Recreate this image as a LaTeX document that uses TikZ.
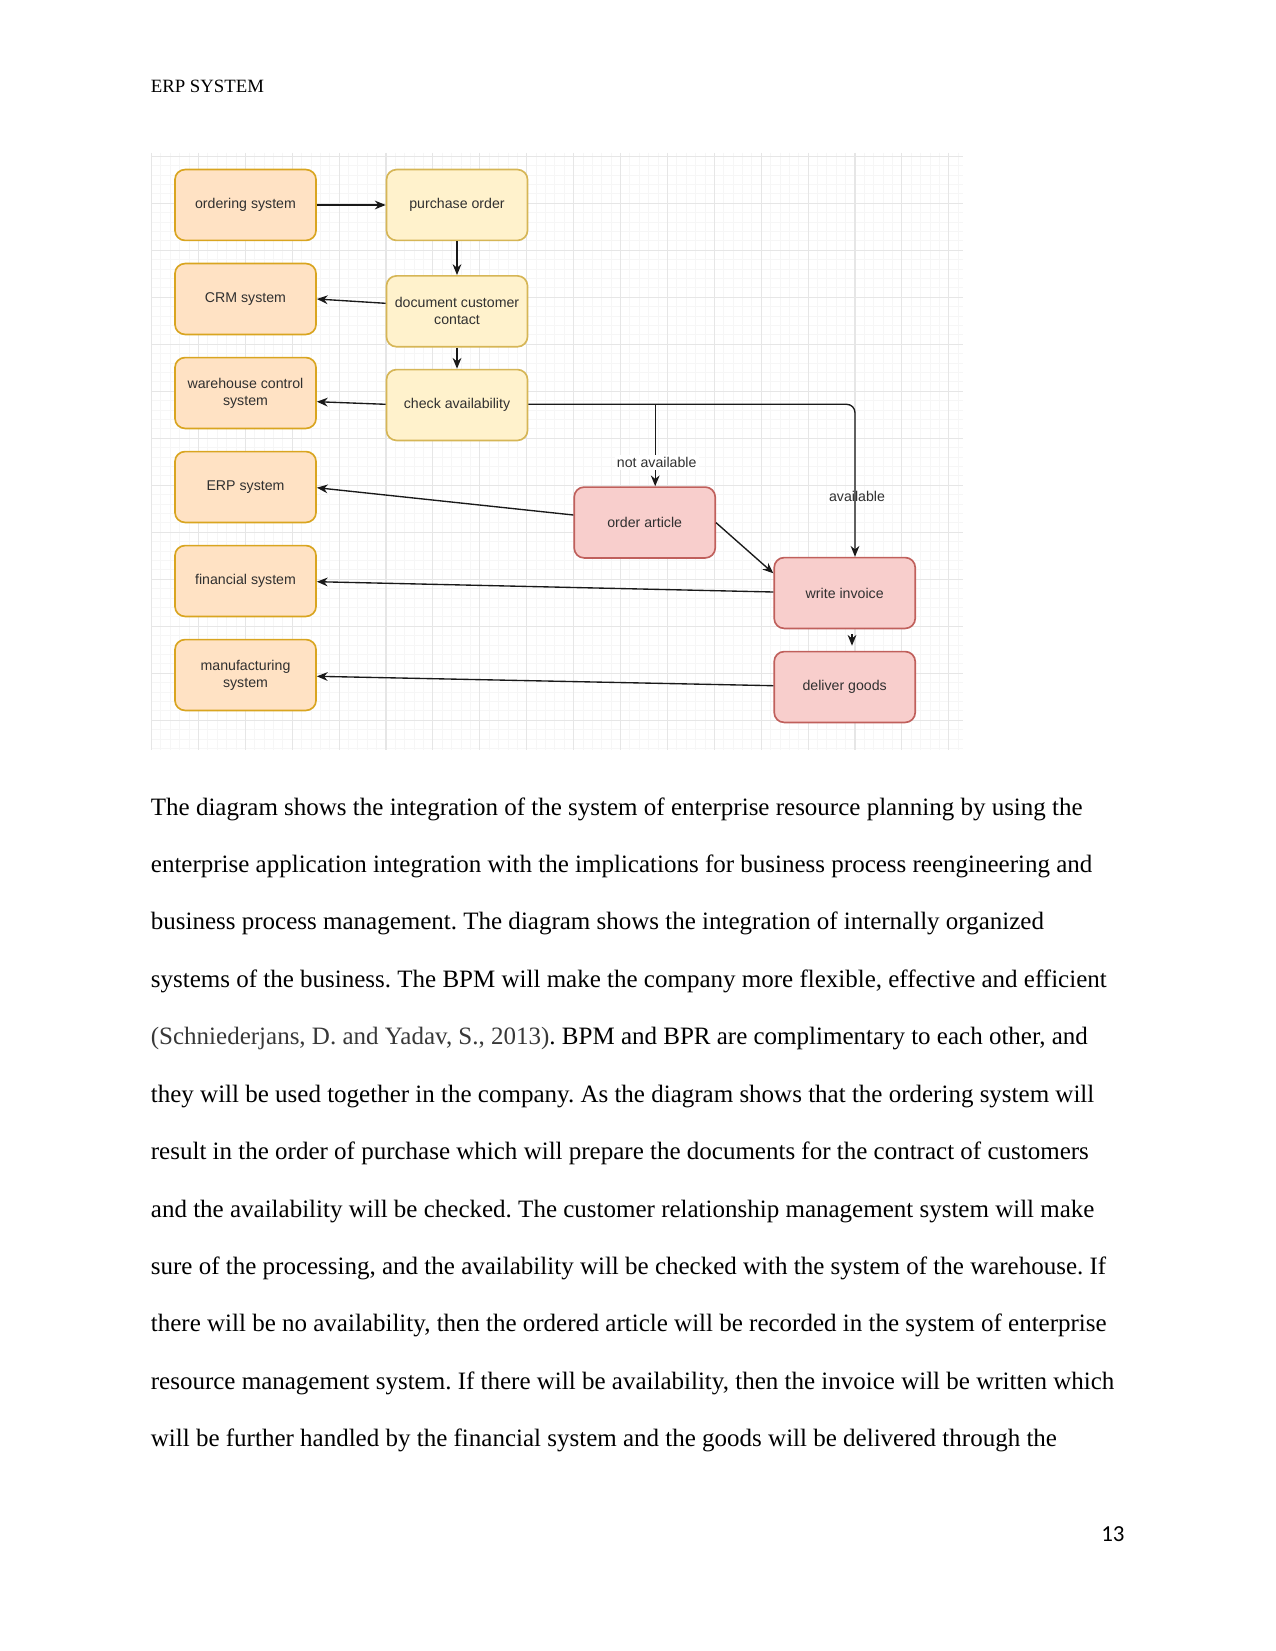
\documentclass[tikz,border=0pt]{standalone}
\usepackage{fontspec}
\setmainfont{Liberation Serif}
\newfontfamily\diafont{Liberation Sans}
\newfontfamily\pnfont{Carlito}
\usetikzlibrary{arrows.meta,calc}
\definecolor{orfill}{HTML}{FFE2C4}
\definecolor{ordraw}{HTML}{D9A520}
\definecolor{yefill}{HTML}{FFF2CC}
\definecolor{yedraw}{HTML}{D6B656}
\definecolor{refill}{HTML}{F8CECC}
\definecolor{redraw}{HTML}{C0605C}
\definecolor{gridmaj}{HTML}{E6E6E6}
\definecolor{gridmin}{HTML}{F6F6F6}
\definecolor{txt}{HTML}{303030}
\frenchspacing
\begin{document}
\begin{tikzpicture}[x=0.48pt,y=-0.48pt,
  box/.style={rounded corners=4.8pt, minimum width=67.7pt, minimum height=34pt,
    line width=0.8pt, font=\diafont\fontsize{6.8}{8.2}\selectfont, text=txt,
    align=center, inner sep=1pt},
  orbox/.style={box, fill=orfill, draw=ordraw},
  yebox/.style={box, fill=yefill, draw=yedraw},
  rebox/.style={box, fill=refill, draw=redraw},
  conn/.style={line width=0.65pt, draw=black!90, -{Stealth[length=5.2pt,width=4.2pt]}},
  lbl/.style={font=\diafont\fontsize{6.8}{8.2}\selectfont, text=txt, inner sep=1pt},
  bodytext/.style={anchor=base west, inner sep=0pt, font=\fontsize{12}{14}\selectfont}
]
\useasboundingbox (0,0) rectangle (1275,1651);
\fill[white] (0,0) rectangle (1275,1651);

% header
\node[anchor=base west, inner sep=0pt, font=\fontsize{9}{11}\selectfont] (hdr) at (150.5,92.3) {ERP SYSTEM};

% grid background
\begin{scope}
\clip (151,153) rectangle (963,750);
\foreach \i in {0,...,87} {
  \pgfmathtruncatemacro{\r}{mod(\i,5)}
  \ifnum\r=0\relax\else
    \draw[gridmin, line width=0.4pt] ({151.5+9.38*\i},153) -- ({151.5+9.38*\i},750);
  \fi
}
\foreach \j in {0,...,63} {
  \pgfmathtruncatemacro{\r}{mod(\j,5)}
  \ifnum\r=0\relax\else
    \draw[gridmin, line width=0.4pt] (151,{156.3+9.4*\j}) -- (963,{156.3+9.4*\j});
  \fi
}
\foreach \i in {0,...,17} {
  \draw[gridmaj, line width=0.5pt] ({151.5+46.9*\i},153) -- ({151.5+46.9*\i},750);
}
\foreach \j in {0,...,12} {
  \draw[gridmaj, line width=0.5pt] (151,{156.3+47*\j}) -- (963,{156.3+47*\j});
}
\end{scope}

% left column
\node[orbox] (ord) at (245.5,205) {ordering system};
\node[orbox] (crm) at (245.5,299) {CRM system};
\node[orbox] (wh)  at (245.5,393) {warehouse control\\system};
\node[orbox] (erp) at (245.5,487) {ERP system};
\node[orbox] (fin) at (245.5,581) {financial system};
\node[orbox] (man) at (245.5,675) {manufacturing\\system};

% middle column
\node[yebox] (pur) at (457,205) {purchase order};
\node[yebox] (doc) at (457,311.3) {document customer\\contact};
\node[yebox] (chk) at (457,405) {check availability};

% red boxes
\node[rebox] (art) at (644.7,522.5) {order article};
\node[rebox] (inv) at (844.7,593) {write invoice};
\node[rebox] (del) at (844.7,687) {deliver goods};

% connectors
\draw[conn] (ord.east) -- (pur.west);
\draw[conn] (pur.south) -- (doc.north);
\draw[conn] (doc.south) -- (chk.north);
\draw[conn] ($(doc.west)+(0,-8)$) -- (crm.east);
\draw[conn] ($(chk.west)+(0,-0.7)$) -- ($(wh.east)+(0,8.7)$);

\coordinate (avx) at ($(inv.north)+(10.3,0)$);
\draw[conn, rounded corners=4pt] ($(chk.east)+(0,-0.7)$) -| (avx);
\node[lbl] (avl) at (857,496.5) {available};

\coordinate (nax) at ($(art.north)+(10.5,0)$);
\draw[conn] ($(nax |- chk.east)+(0,-0.7)$) -- (nax);
\node[lbl, fill=white] (navl) at (656.7,462.5) {not available};

\draw[conn] ($(art.east)+(0,0.2)$) -- ($(inv.west)+(0,-19.7)$);
\draw[conn] ($(art.west)+(0,-7.5)$) -- ($(erp.east)+(0,0.7)$);
\draw[conn] ($(inv.west)+(0,-1)$) -- ($(fin.east)+(0,0.7)$);
\draw[conn] ($(del.west)+(0,-1.3)$) -- ($(man.east)+(0,1.3)$);
\draw[conn] ($(inv.south)+(7.3,5)$) -- ($(del.north)+(7.3,-5)$);

% body text
\node[bodytext] (l1)  at (150.5,815.0) {The diagram shows the integration of the system of enterprise resource planning by using the};
\node[bodytext] (l2)  at (150.5,872.4) {enterprise application integration with the implications for business process reengineering and};
\node[bodytext] (l3)  at (150.5,929.9) {business process management. The diagram shows the integration of internally organized};
\node[bodytext] (l4)  at (150.5,987.3) {systems of the business. The BPM will make the company more flexible, effective and efficient};
\node[bodytext] (l5)  at (150.5,1044.7) {\textcolor{black!78}{(Schniederjans, D. and Yadav, S., 2013)}. BPM and BPR are complimentary to each other, and};
\node[bodytext] (l6)  at (150.5,1102.2) {they will be used together in the company. As the diagram shows that the ordering system will};
\node[bodytext] (l7)  at (150.5,1159.6) {result in the order of purchase which will prepare the documents for the contract of customers};
\node[bodytext] (l8)  at (150.5,1217.0) {and the availability will be checked. The customer relationship management system will make};
\node[bodytext] (l9)  at (150.5,1274.4) {sure of the processing, and the availability will be checked with the system of the warehouse. If};
\node[bodytext] (l10) at (150.5,1331.9) {there will be no availability, then the ordered article will be recorded in the system of enterprise};
\node[bodytext] (l11) at (150.5,1389.3) {resource management system. If there will be availability, then the invoice will be written which};
\node[bodytext] (l12) at (150.5,1446.7) {will be further handled by the financial system and the goods will be delivered through the};

% page number
\node[anchor=base east, inner sep=0pt, font=\pnfont\fontsize{11}{13}\selectfont] (pg) at (1125,1541) {13};
\end{tikzpicture}
\end{document}
